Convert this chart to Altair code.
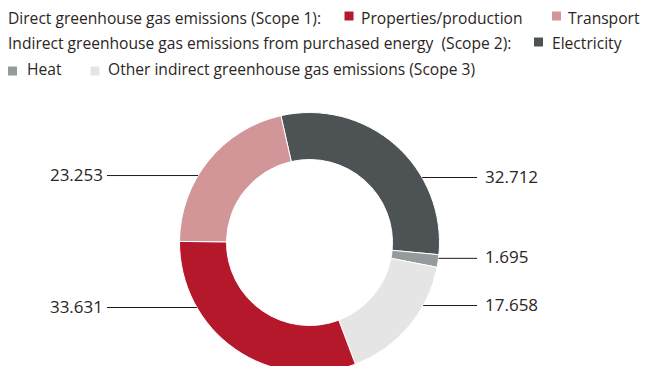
import math
import altair as alt
import pandas as pd

# ---- data ----
categories = ["Electricity", "Heat", "Other indirect greenhouse gas emissions (Scope 3)",
              "Properties/production", "Transport"]
values = [32.712, 1.695, 17.658, 33.631, 23.253]
value_labels = ["32.712", "1.695", "17.658", "33.631", "23.253"]
colors = ["#4d5254", "#959b9c", "#e5e5e5", "#b5182b", "#d29698"]

# ---- layout ----
W, H = 654, 358
CX, CY = 301.5, 234.5
R_OUT, R_IN = 130, 83
START = math.radians(-12.7)
label_angles = [60, 97, 119, 240, 301]       # degrees clockwise from top, where leader lines touch
RIGHT_END, LEFT_END = 469, 99
FONT = "Open Sans"
TXT = "#2b2523"

df = pd.DataFrame({"category": categories, "value": values, "label": value_labels,
                   "order": list(range(len(categories))), "angle": label_angles})

color_scale = alt.Scale(domain=categories, range=colors)

arc = alt.Chart(df).mark_arc(outerRadius=R_OUT, innerRadius=R_IN, stroke="white", strokeWidth=1).encode(
    theta=alt.Theta("value:Q", stack=True, scale=alt.Scale(range=[START, START + 2 * math.pi])),
    order=alt.Order("order:Q"),
    color=alt.Color("category:N", scale=color_scale, legend=None),
    x=alt.value(CX), y=alt.value(CY),
)

lines_base = alt.Chart(df).transform_calculate(
    x0=f"{CX} + {R_OUT}*sin(datum.angle*PI/180)",
    y0=f"{CY} - {R_OUT}*cos(datum.angle*PI/180)",
    right="datum.angle < 180",
).transform_calculate(
    x1=f"datum.right ? {RIGHT_END} : {LEFT_END}",
    tx=f"datum.right ? {RIGHT_END + 8} : {LEFT_END - 4}",
)

leaders = lines_base.mark_rule(color="#231815", strokeWidth=1).encode(
    x=alt.X("x0:Q", scale=None, axis=None), x2="x1:Q", y=alt.Y("y0:Q", scale=None, axis=None)
)

num_right = lines_base.transform_filter("datum.right").mark_text(
    align="left", baseline="middle", font=FONT, fontSize=17, color=TXT, dy=0
).encode(x=alt.X("tx:Q", scale=None, axis=None), y=alt.Y("y0:Q", scale=None, axis=None), text="label:N")

num_left = lines_base.transform_filter("!datum.right").mark_text(
    align="right", baseline="middle", font=FONT, fontSize=17, color=TXT, dy=0
).encode(x=alt.X("tx:Q", scale=None, axis=None), y=alt.Y("y0:Q", scale=None, axis=None), text="label:N")

# ---- legend (custom inline) ----
legend_texts = [
    "Direct greenhouse gas emissions (Scope 1):",
    "Properties/production",
    "Transport",
    "Indirect greenhouse gas emissions from purchased energy\u00a0 (Scope 2):",
    "Electricity",
    "Heat",
    "Other indirect greenhouse gas emissions (Scope 3)",
]
legend_text_pos = [(0, 16), (353, 16), (560, 16), (0, 41), (544, 41), (19, 67), (100, 67)]
legend_squares = ["Properties/production", "Transport", "Electricity", "Heat",
                  "Other indirect greenhouse gas emissions (Scope 3)"]
legend_square_pos = [(341, 8), (548.5, 8), (530.5, 34), (4.5, 63), (87, 63)]

ltext = pd.DataFrame({"t": legend_texts,
                      "x": [p[0] for p in legend_text_pos],
                      "y": [p[1] for p in legend_text_pos]})
lsq = pd.DataFrame({"category": legend_squares,
                    "x": [p[0] for p in legend_square_pos],
                    "y": [p[1] for p in legend_square_pos]})

leg_text = alt.Chart(ltext).mark_text(
    align="left", baseline="alphabetic", font=FONT, fontSize=15.6, color=TXT
).encode(x=alt.X("x:Q", scale=None, axis=None), y=alt.Y("y:Q", scale=None, axis=None), text="t:N")

leg_sq = alt.Chart(lsq).mark_square(size=81, opacity=1).encode(
    x=alt.X("x:Q", scale=None, axis=None), y=alt.Y("y:Q", scale=None, axis=None),
    color=alt.Color("category:N", scale=color_scale, legend=None),
)

chart = alt.layer(arc, leaders, num_right, num_left, leg_sq, leg_text).properties(
    width=W, height=H, padding=0, background="white",
    autosize=alt.AutoSizeParams(type="none"),
).configure_view(stroke=None)

chart.save("out.html", embed_options={"renderer": "svg", "actions": False})
